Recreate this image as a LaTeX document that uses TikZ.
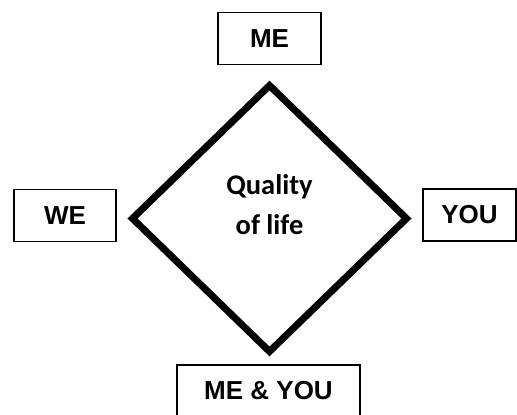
\documentclass[tikz,border=0pt]{standalone}
\usepackage{fontspec}
\setmainfont{Liberation Sans}
\newfontfamily\qolfont{Carlito}
\usetikzlibrary{shapes.geometric,calc}

\begin{document}
\begin{tikzpicture}[
      x=1pt, y=1pt,
      lifediamond/.style={diamond, draw=black, line width=7pt, miter limit=10,
        inner sep=0pt, outer sep=0pt, minimum width=274pt, minimum height=266pt},
      qoltext/.style={font=\qolfont\bfseries\fontsize{28.5}{40}\selectfont, align=center},
      box/.style={draw=black, line width=1.4pt, fill=white, inner sep=0pt,
        minimum height=52pt, font=\bfseries\fontsize{26}{30}\selectfont}
    ]
    \useasboundingbox (0,0) rectangle (517,415);
    % ---------------- centre ----------------
    \node[lifediamond] (Q) at (269.5,196.5) {};
    \node[qoltext] (Qtxt) at ($(Q.center)+(0,14)$) {Quality\\of life};
    % ---------------- four boxes ----------------
    \node[box, minimum width=103pt] (ME) at ($(Q.north)+(0,47)$) {ME};
    \node[box, minimum width=102pt] (WE) at ($(Q.west)+(-67.5,3)$) {WE};
    \node[box, minimum width=93pt] (YOU) at ($(Q.east)+(63,3.5)$) {YOU};
    \node[box, minimum width=183pt] (MEYOU) at ($(Q.south)+(-1,-39.5)$) {ME \& YOU};
  \end{tikzpicture}
\end{document}
